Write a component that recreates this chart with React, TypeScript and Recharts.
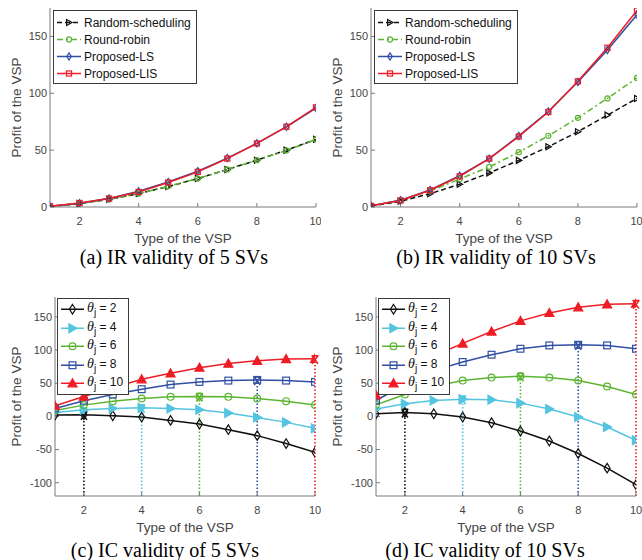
import React from 'react';
import { LineChart, Line, XAxis, YAxis, Legend, ReferenceLine, ReferenceDot } from 'recharts';

// VSP types on the x axis
const types = [1, 2, 3, 4, 5, 6, 7, 8, 9, 10];
const xTicks = [2, 4, 6, 8, 10];
const irTicks = [0, 50, 100, 150];
const icTicks = [-100, -50, 0, 50, 100, 150];

// (a) IR validity of 5 SVs
const randomA = [0.5, 3, 6.8, 11.8, 18, 25, 33, 41.2, 50, 59.5];
const roundA = [0.5, 3, 6.8, 11.8, 18.2, 25, 33, 41.2, 49.7, 59.4];
const lsA = [0.6, 3.4, 7.6, 13.8, 22, 31.5, 43, 56, 70.5, 87];
const lisA = [0.6, 3.5, 7.4, 13.2, 21.5, 30.9, 42.6, 55.9, 70.6, 87.6];

// (b) IR validity of 10 SVs
const randomB = [1, 5, 11.7, 20, 30, 41, 53, 66.2, 80.8, 95.5];
const roundB = [1, 6, 14, 24.6, 35.3, 48.2, 62.6, 78.4, 95.5, 113.5];
const lsB = [1, 6, 15, 27.5, 42.5, 62.5, 84, 110, 138, 169];
const lisB = [1, 5.7, 14.7, 27, 42.5, 62, 83.5, 110.5, 140, 172.8];

// (c) IC validity of 5 SVs
const theta2C = [2, 2.5, 1, -1, -6, -11.6, -20, -29, -41, -54];
const theta4C = [6, 10, 12, 13, 12, 10, 5, -1.5, -9, -18];
const theta6C = [9, 17, 23, 27, 29.5, 30, 29.5, 27, 23, 17];
const theta8C = [12, 23.7, 33, 41, 48, 52, 54, 55, 54, 52];
const theta10C = [16, 30, 43, 56, 65, 73.5, 79.6, 84, 86.6, 87];

// (d) IC validity of 10 SVs
const theta2D = [4, 6, 4, -1, -9.5, -22, -37, -56, -78, -103];
const theta4D = [11, 19, 24, 26, 25, 20, 11, -1, -16, -36];
const theta6D = [17.6, 33, 45, 54, 58.5, 60.5, 58.5, 54, 45, 33];
const theta8D = [24, 48, 69, 82, 93, 102, 107, 108, 107, 102];
const theta10D = [32, 63, 91, 110, 128, 144, 156, 164.6, 169, 170];

// stems: the true type of each curve and its profit there
const stemTypes = [2, 4, 6, 8, 10];
const stemPeaksC = [2.5, 13, 30, 55, 87];
const stemPeaksD = [6, 26, 60.5, 108, 170];

const BLACK = '#111111';
const GREEN = '#5cb531';
const BLUE = '#2f4fa2';
const RED = '#ee1c25';
const CYAN = '#55c4e0';
const AXIS = '#7a7a7a';
const TICK_TEXT = '#454545';
const SANS = '"Liberation Sans", Arial, sans-serif';

type Shape = 'triRight' | 'circle' | 'diamond' | 'square' | 'triUp';

interface Series {
  key: string;
  label: React.ReactNode;
  color: string;
  dash?: string;
  shape: Shape;
  size: number;
  filled?: boolean;
}

function Marker({ cx, cy, shape, color, size, filled }: any) {
  if (cx == null || cy == null) return null;
  const h = size / 2;
  const props = { stroke: color, strokeWidth: 1.2, fill: filled ? color : 'none' };
  switch (shape as Shape) {
    case 'circle':
      return <circle cx={cx} cy={cy} r={h * 0.85} {...props} />;
    case 'square':
      return <rect x={cx - h * 0.85} y={cy - h * 0.85} width={size * 0.85} height={size * 0.85} {...props} />;
    case 'diamond':
      return <path d={`M${cx},${cy - h * 1.2}L${cx + h * 0.75},${cy}L${cx},${cy + h * 1.2}L${cx - h * 0.75},${cy}Z`} {...props} />;
    case 'triRight':
      return <path d={`M${cx + h},${cy}L${cx - h * 0.8},${cy - h}L${cx - h * 0.8},${cy + h}Z`} {...props} />;
    case 'triUp':
      return <path d={`M${cx},${cy - h}L${cx + h},${cy + h * 0.8}L${cx - h},${cy + h * 0.8}Z`} {...props} />;
  }
  return null;
}

function StemHead({ cx, cy, color }: any) {
  if (cx == null || cy == null) return null;
  return (
    <path
      d={`M${cx - 3.5},${cy - 3}L${cx + 3.5},${cy - 3}M${cx - 3},${cy - 3}L${cx + 3},${cy + 5}M${cx + 3},${cy - 3}L${cx - 3},${cy + 5}`}
      stroke={color}
      strokeWidth={1.6}
      fill="none"
    />
  );
}

function theta(n: number) {
  return (
    <span>
      <span style={{ fontFamily: '"Liberation Serif", serif', fontStyle: 'italic', fontSize: 14 }}>θ</span>
      <sub style={{ fontSize: 10, verticalAlign: '-4px' }}>j</sub>
      {` = ${n}`}
    </span>
  );
}

const irSeries = (): Series[] => [
  { key: 'random', label: 'Random-scheduling', color: BLACK, dash: '5 3', shape: 'triRight', size: 6 },
  { key: 'round', label: 'Round-robin', color: GREEN, dash: '6 3 2 3', shape: 'circle', size: 6 },
  { key: 'ls', label: 'Proposed-LS', color: BLUE, shape: 'diamond', size: 6 },
  { key: 'lis', label: 'Proposed-LIS', color: RED, shape: 'square', size: 6 },
];

const icSeries: Series[] = [
  { key: 't2', label: theta(2), color: BLACK, shape: 'diamond', size: 8 },
  { key: 't4', label: theta(4), color: CYAN, shape: 'triRight', size: 9, filled: true },
  { key: 't6', label: theta(6), color: GREEN, shape: 'circle', size: 8 },
  { key: 't8', label: theta(8), color: BLUE, shape: 'square', size: 8 },
  { key: 't10', label: theta(10), color: RED, shape: 'triUp', size: 9, filled: true },
];

function LegendBox({ series, rowH, sampleW, fontSize, padTop }: any) {
  return (
    <div
      style={{
        border: '1px solid #3a3a3a',
        background: '#fff',
        padding: `${padTop}px 5px 1px 2px`,
        fontFamily: SANS,
        fontSize,
        color: '#111',
      }}
    >
      {series.map((s: Series) => (
        <div key={s.key} style={{ display: 'flex', alignItems: 'center', height: rowH, whiteSpace: 'nowrap' }}>
          <svg width={sampleW} height={rowH} style={{ marginRight: 2, flexShrink: 0, display: 'block', overflow: 'visible' }}>
            <path d={`M1,${rowH / 2}H${sampleW - 1}`} stroke={s.color} strokeWidth={1.5} strokeDasharray={s.dash} fill="none" />
            <Marker cx={sampleW / 2} cy={rowH / 2} shape={s.shape} color={s.color} size={s.size} filled={s.filled} />
          </svg>
          {s.label}
        </div>
      ))}
    </div>
  );
}

interface PanelProps {
  left: number;
  top: number;
  values: number[][];
  series: Series[];
  yDomain: [number, number];
  yTicks: number[];
  yWidth: number;
  rightMargin: number;
  legend: { left: number; top: number; rowH: number; sampleW: number; fontSize: number; padTop: number };
  caption: string;
  captionCenter: number;
  captionTop: number;
  stemPeaks?: number[];
}

function Panel(p: PanelProps) {
  const rows = types.map((t, i) => {
    const row: Record<string, number> = { type: t };
    p.series.forEach((s, k) => {
      row[s.key] = p.values[k][i];
    });
    return row;
  });
  const plotTop = 8;
  const chartH = 251;
  const xH = 44;
  const plotMid = plotTop + (chartH - xH - plotTop) / 2;

  return (
    <div style={{ position: 'absolute', left: p.left, top: p.top, width: 321, height: 280 }}>
      <LineChart width={321} height={chartH} data={rows} margin={{ top: plotTop, right: p.rightMargin, left: 0, bottom: 0 }}>
        <XAxis
          dataKey="type"
          type="number"
          domain={[1, 10]}
          ticks={xTicks}
          allowDataOverflow
          height={xH}
          stroke={AXIS}
          tickSize={-4}
          tickMargin={14}
          tick={{ fill: TICK_TEXT, fontSize: 11, fontFamily: SANS }}
          label={{ value: 'Type of the VSP', position: 'insideBottom', offset: 8, fill: TICK_TEXT, fontSize: 13.5, fontFamily: SANS }}
        />
        <XAxis xAxisId="top" orientation="top" type="number" domain={[1, 10]} ticks={xTicks} allowDataOverflow height={0} stroke={AXIS} tickSize={-4} tick={false} />
        <YAxis
          type="number"
          domain={p.yDomain}
          ticks={p.yTicks}
          allowDataOverflow
          width={p.yWidth}
          stroke={AXIS}
          tickSize={-4}
          tickMargin={7}
          tick={{ fill: TICK_TEXT, fontSize: 11, fontFamily: SANS }}
          label={{
            content: () => (
              <text
                x={16}
                y={plotMid}
                transform={`rotate(-90 16 ${plotMid})`}
                textAnchor="middle"
                dominantBaseline="central"
                fill={TICK_TEXT}
                fontSize={13.5}
                fontFamily={SANS}
              >
                Profit of the VSP
              </text>
            ),
          }}
        />
        <YAxis yAxisId="right" orientation="right" type="number" domain={p.yDomain} ticks={p.yTicks} allowDataOverflow width={0} stroke={AXIS} tickSize={-4} tick={false} />
        {p.stemPeaks &&
          stemTypes.map((t, i) => (
            <ReferenceLine
              key={`stem-${t}`}
              segment={[
                { x: t, y: p.yDomain[0] },
                { x: t, y: p.stemPeaks![i] },
              ]}
              stroke={p.series[i].color}
              strokeWidth={1.6}
              strokeDasharray="1.5 2"
            />
          ))}
        {p.series.map((s) => (
          <Line
            key={s.key}
            dataKey={s.key}
            type="linear"
            stroke={s.color}
            strokeWidth={1.5}
            strokeDasharray={s.dash}
            isAnimationActive={false}
            dot={(d: any) => (
              <Marker key={`${s.key}-${d.index}`} cx={d.cx} cy={d.cy} shape={s.shape} color={s.color} size={s.size} filled={s.filled} />
            )}
            activeDot={false}
          />
        ))}
        {p.stemPeaks &&
          stemTypes.map((t, i) => (
            <ReferenceDot
              key={`head-${t}`}
              x={t}
              y={p.stemPeaks![i]}
              r={4}
              shape={(d: any) => <StemHead cx={d.cx} cy={d.cy} color={p.series[i].color} />}
            />
          ))}
        <Legend
          layout="vertical"
          align="center"
          verticalAlign="middle"
          wrapperStyle={{ left: p.legend.left, top: p.legend.top, width: 'auto' }}
          content={() => (
            <LegendBox
              series={p.series}
              rowH={p.legend.rowH}
              sampleW={p.legend.sampleW}
              fontSize={p.legend.fontSize}
              padTop={p.legend.padTop}
            />
          )}
        />
      </LineChart>
      <div
        style={{
          position: 'absolute',
          left: p.captionCenter - 150,
          top: p.captionTop,
          width: 300,
          textAlign: 'center',
          fontFamily: '"Liberation Serif", serif',
          fontSize: 20,
          lineHeight: '22px',
          color: '#000',
        }}
      >
        {p.caption}
      </div>
    </div>
  );
}

export default function App() {
  const irLegend = { left: 53, top: 10, rowH: 17, sampleW: 26, fontSize: 12, padTop: 3 };
  const icLegend = { left: 57, top: 9, rowH: 18.5, sampleW: 25, fontSize: 12, padTop: 1 };
  return (
    <div style={{ position: 'absolute', left: 0, top: 0, width: 642, height: 560, background: '#fff' }}>
      <Panel
        left={0}
        top={0}
        values={[randomA, roundA, lsA, lisA]}
        series={irSeries()}
        yDomain={[0, 175]}
        yTicks={irTicks}
        yWidth={50}
        rightMargin={5}
        legend={irLegend}
        caption="(a) IR validity of 5 SVs"
        captionCenter={174}
        captionTop={246}
      />
      <Panel
        left={321}
        top={0}
        values={[randomB, roundB, lsB, lisB]}
        series={irSeries()}
        yDomain={[0, 175]}
        yTicks={irTicks}
        yWidth={50}
        rightMargin={5}
        legend={irLegend}
        caption="(b) IR validity of 10 SVs"
        captionCenter={175}
        captionTop={246}
      />
      <Panel
        left={0}
        top={289}
        values={[theta2C, theta4C, theta6C, theta8C, theta10C]}
        series={icSeries}
        yDomain={[-120, 180]}
        yTicks={icTicks}
        yWidth={55}
        rightMargin={6}
        legend={icLegend}
        caption="(c) IC validity of 5 SVs"
        captionCenter={165}
        captionTop={250}
        stemPeaks={stemPeaksC}
      />
      <Panel
        left={321}
        top={289}
        values={[theta2D, theta4D, theta6D, theta8D, theta10D]}
        series={icSeries}
        yDomain={[-120, 180]}
        yTicks={icTicks}
        yWidth={55}
        rightMargin={6}
        legend={icLegend}
        caption="(d) IC validity of 10 SVs"
        captionCenter={164}
        captionTop={250}
        stemPeaks={stemPeaksD}
      />
    </div>
  );
}
